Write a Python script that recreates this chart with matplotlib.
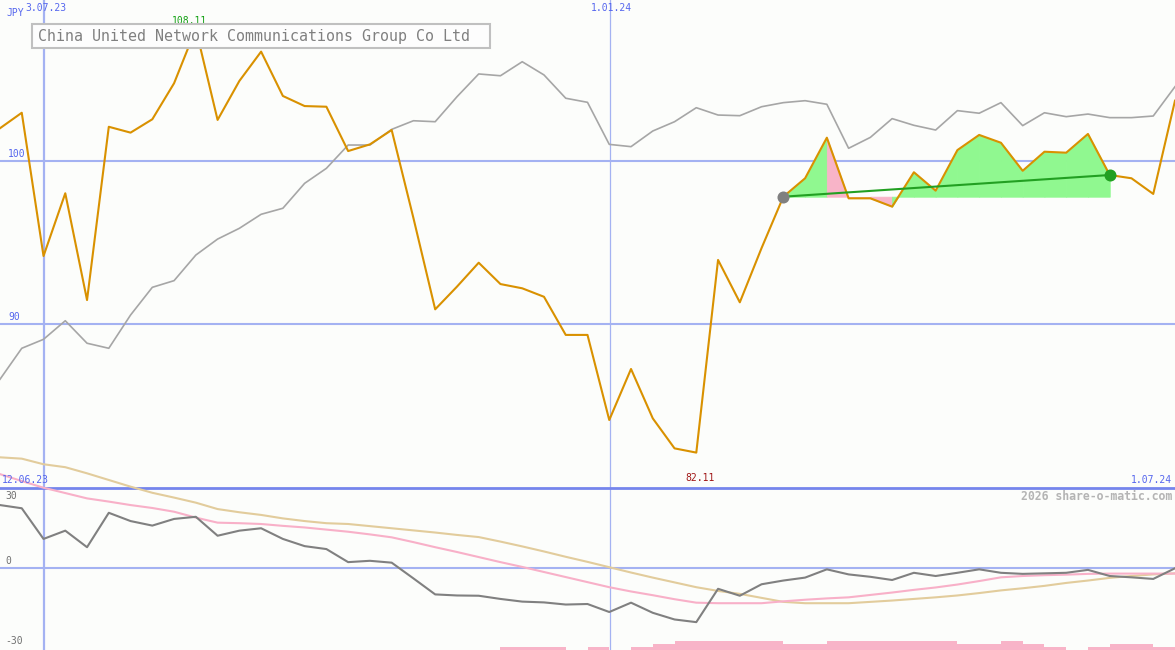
import numpy as np
import matplotlib
matplotlib.use("Agg")
import matplotlib.pyplot as plt
from matplotlib.patches import Rectangle

# weekly closes, 12.06.23 .. 1.07.24 (JPY)
kurs = [102.01, 102.96, 94.17, 98.02, 91.47, 102.10, 101.74, 102.56, 104.77, 108.11,
        102.52, 104.91, 106.71, 103.99, 103.37, 103.33, 100.61, 101.02, 101.90, 96.50,
        90.90, 92.29, 93.76, 92.45, 92.19, 91.67, 89.33, 89.33, 84.11, 87.24,
        84.21, 82.37, 82.11, 93.93, 91.33, 94.66, 97.81, 98.94, 101.43, 97.71,
        97.71, 97.20, 99.31, 98.18, 100.67, 101.60, 101.12, 99.40, 100.57, 100.51,
        101.66, 99.14, 98.94, 97.98, 103.70]

# comparison index, same scale
index_kurs = [86.61, 88.51, 89.06, 90.20, 88.82, 88.51, 90.55, 92.25, 92.66, 94.23,
              95.21, 95.87, 96.73, 97.10, 98.63, 99.55, 100.98, 100.98, 101.94, 102.47,
              102.41, 103.94, 105.34, 105.23, 106.09, 105.28, 103.85, 103.60, 101.02, 100.88,
              101.84, 102.41, 103.27, 102.82, 102.78, 103.33, 103.58, 103.70, 103.48, 100.78,
              101.45, 102.60, 102.19, 101.90, 103.09, 102.93, 103.58, 102.17, 102.96, 102.72,
              102.88, 102.66, 102.66, 102.76, 104.56]

# lower panel: momentum and two averages
momentum = [23.6, 22.4, 10.9, 14.0, 7.8, 20.7, 17.6, 15.9, 18.4, 19.2,
            12.1, 14.0, 14.9, 10.9, 8.2, 7.1, 2.2, 2.7, 2.0, -3.9,
            -9.9, -10.3, -10.4, -11.6, -12.6, -12.9, -13.7, -13.5, -16.5, -13.0,
            -16.8, -19.3, -20.3, -7.8, -10.4, -6.1, -4.7, -3.6, -0.5, -2.4,
            -3.3, -4.5, -1.8, -3.0, -1.8, -0.5, -1.8, -2.2, -2.0, -1.8,
            -0.7, -3.0, -3.5, -4.1, -0.1]
avg_kurz = [35.2, 32.6, 30.1, 28.1, 26.1, 24.9, 23.6, 22.5, 21.1, 18.9,
            17.0, 16.8, 16.5, 15.8, 15.2, 14.4, 13.6, 12.6, 11.5, 9.7,
            7.8, 6.0, 4.1, 2.2, 0.4, -1.5, -3.4, -5.3, -7.2, -8.8,
            -10.2, -11.7, -13.0, -13.2, -13.2, -13.2, -12.5, -11.9, -11.4, -11.0,
            -10.1, -9.2, -8.2, -7.3, -6.2, -4.9, -3.5, -3.0, -2.7, -2.5,
            -2.2, -2.1, -2.1, -2.1, -2.1]
avg_lang = [41.5, 41.0, 38.9, 37.8, 35.5, 33.0, 30.5, 28.2, 26.4, 24.5,
            22.1, 20.9, 19.9, 18.6, 17.6, 16.8, 16.5, 15.7, 14.9, 14.1,
            13.3, 12.4, 11.6, 9.9, 8.1, 6.2, 4.2, 2.3, 0.3, -1.7,
            -3.6, -5.4, -7.2, -8.6, -9.7, -11.2, -12.7, -13.2, -13.2, -13.2,
            -12.7, -12.2, -11.6, -11.0, -10.3, -9.4, -8.4, -7.6, -6.7, -5.6,
            -4.7, -3.7, -3.0, -2.4, -2.0]

# volume steps (one per week interval)
volumen = [0] * 23 + [1, 1, 1, 0, 1, 0, 1, 2, 3, 3, 3, 3, 3, 2, 2, 3, 3, 3, 3, 3,
                      3, 2, 2, 3, 2, 1, 0, 1, 2, 2, 1]

datum_pos = [2.02, 28.03]
datum_txt = ["3.07.23", "1.01.24"]
trend_start, trend_ende = 36, 51
titel = "China United Network Communications Group Co Ltd"

W, H = 1175, 650
BG = "#fcfdfb"
BLAU = "#5566ee"
GRID = "#a4b2f2"
MONO = "DejaVu Sans Mono"

x = np.arange(len(kurs))
kurs = np.array(kurs)

fig = plt.figure(figsize=(W / 100, H / 100), dpi=100, facecolor=BG)


def fpos(px, py):
    return px / W, 1 - py / H


# volume axes (back)
ax3 = fig.add_axes([0, 0, 1, 1])
ax3.set_xlim(0, 54)
ax3.set_ylim(0, H / 3)
ax3.axis("off")
ax3.bar(np.arange(len(volumen)), volumen, width=1, align="edge", color="#f8b4c8", lw=0)

# main chart
ax = fig.add_axes([0, 0, 1, 1])
ax.patch.set_visible(False)
ax.set_xlim(0, 54)
ax.set_ylim(100 - 489 / 16.3, 100 + 161 / 16.3)
ax.axis("off")
for lvl in [100, 90]:
    ax.axhline(lvl, color=GRID, lw=1.5, zorder=1)
ax.axvline(datum_pos[0], color=GRID, lw=1.6, zorder=1)
ax.axvline(datum_pos[1], color=GRID, lw=0.9, zorder=1)

ax.plot(x, index_kurs, color="#a6a6a6", lw=1.2, zorder=3)

# fill vs. start value, colour by segment end
basis = kurs[trend_start]
for j in range(trend_start, trend_ende):
    farbe = "#90f890" if kurs[j + 1] >= basis else "#f8b4c8"
    ax.fill_between(x[j:j + 2], kurs[j:j + 2], basis, facecolor=farbe,
                    edgecolor=farbe, lw=0.6, zorder=2)

ax.plot(x, kurs, color="#d99100", lw=1.5, zorder=4)
ax.plot([trend_start, trend_ende], [kurs[trend_start], kurs[trend_ende]],
        color="#22a022", lw=1.5, zorder=5)
ax.scatter([trend_start], [kurs[trend_start]], s=75, color="#808080", zorder=6, lw=0)
ax.scatter([trend_ende], [kurs[trend_ende]], s=75, color="#22a022", zorder=6, lw=0)

for lvl in [100, 90]:
    ax.annotate(str(lvl), (0, lvl), xytext=(8, 2), textcoords="offset pixels",
                color=BLAU, fontsize=7, family=MONO, va="bottom")
imax, imin = int(np.argmax(kurs)), int(np.argmin(kurs))
ax.annotate(f"{kurs[imax]:.2f}", (imax, kurs[imax]), xytext=(-6, 3), textcoords="offset pixels",
            color="#11a011", fontsize=7, family=MONO, ha="center", va="bottom")
ax.annotate(f"{kurs[imin]:.2f}", (imin, kurs[imin]), xytext=(4, -20), textcoords="offset pixels",
            color="#a01515", fontsize=7, family=MONO, ha="center", va="top")
for p, t in zip(datum_pos, datum_txt):
    ax.annotate(t, (p, ax.get_ylim()[1]), xytext=(2, -3), textcoords="offset pixels",
                color=BLAU, fontsize=7, family=MONO, ha="center", va="top")

# lower panel
ax2 = fig.add_axes([0, 0, 1, 1])
ax2.patch.set_visible(False)
ax2.set_xlim(0, 54)
ax2.set_ylim(-82 / 2.667, 568 / 2.667)
ax2.axis("off")
ax2.axhline(0, color=GRID, lw=1.5, zorder=1)
ax2.axhline(30, color="#7585ec", lw=2, zorder=1)
ax2.plot(x, avg_lang, color="#e2cc9c", lw=1.5, zorder=2)
ax2.plot(x, avg_kurz, color="#f8b0c8", lw=1.5, zorder=3)
ax2.plot(x, momentum, color="#808080", lw=1.5, zorder=4)
for lvl, dy in [(30, -13), (0, 2), (-30, 2)]:
    ax2.annotate(str(lvl), (0, lvl), xytext=(5, dy), textcoords="offset pixels",
                 color="#707070", fontsize=7, family=MONO, va="bottom")

# fixed labels
fig.text(*fpos(6, 13), "JPY", color=BLAU, fontsize=7, family=MONO, va="center")
fig.text(*fpos(2, 480), "12.06.23", color=BLAU, fontsize=7, family=MONO, va="center")
fig.text(*fpos(1172, 480), "1.07.24", color=BLAU, fontsize=7, family=MONO, va="center", ha="right")
fig.text(*fpos(1172, 496), "2026 share-o-matic.com", color="#b4b4b4", fontsize=8.3,
         family=MONO, va="center", ha="right", fontweight="bold")

x0, y0 = fpos(32, 48)
fig.patches.append(Rectangle((x0, y0), 458 / W, 24 / H, transform=fig.transFigure,
                             facecolor="#fdfdfd", edgecolor="#c0c0c0", lw=1.5, zorder=10))
fig.text(*fpos(38, 36), titel, color="#808080", fontsize=10.8, family=MONO,
         va="center", zorder=11)

fig.savefig("out.png", dpi=100, facecolor=BG)
